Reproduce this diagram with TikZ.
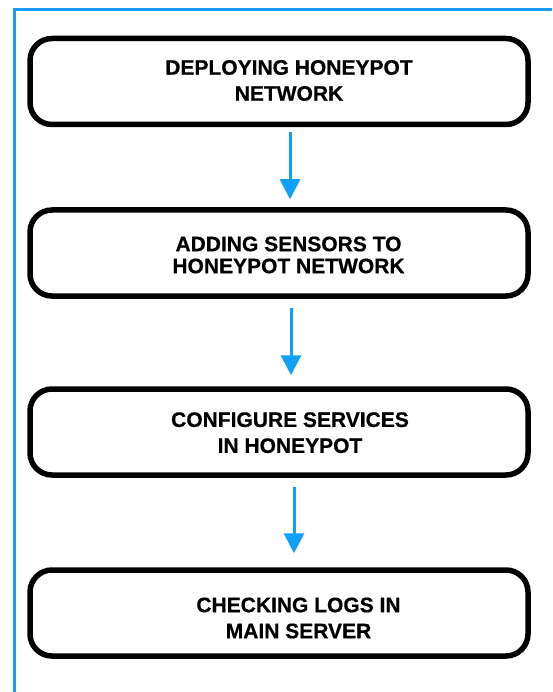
\documentclass[tikz,border=0pt]{standalone}
\usepackage{fontspec}
\setmainfont{Liberation Sans}[BoldFeatures={FakeBold=0.6}]
\usetikzlibrary{arrows.meta}
\definecolor{frameblue}{RGB}{25,155,250}
\definecolor{arrowblue}{RGB}{15,160,250}
\tikzset{
  stepbox/.style={draw=black, line width=5.5pt, rounded corners=22pt, fill=white,
    minimum width=498pt, minimum height=86pt, inner sep=0pt},
  steptext/.style={align=center, font=\fontsize{21}{26}\selectfont\bfseries, inner sep=0pt, text=black},
  flow/.style={draw=arrowblue, line width=3pt, -{Triangle[width=20pt,length=20pt]}},
  frameline/.style={draw=frameblue, line width=3pt}
}
\begin{document}
\begin{tikzpicture}[x=1pt,y=-1pt]
\useasboundingbox (0,0) rectangle (552,692);
% frame
\coordinate (fbl) at (14,692);
\coordinate (ftl) at (14,10);
\coordinate (ftr) at (552,10);
\draw[frameline] (fbl) -- (ftl) -- (ftr);
% boxes
\node[stepbox] (b1) at (279,81.5) {};
\node[stepbox] (b2) at (279,253) {};
\node[stepbox] (b3) at (279,432) {};
\node[stepbox] (b4) at (279,613) {};
% texts
\node[steptext] (t1) at (289,80.5) {DEPLOYING HONEYPOT\\NETWORK};
\node[steptext, font=\fontsize{21}{22}\selectfont\bfseries] (t2) at (288.5,255) {ADDING SENSORS TO\\HONEYPOT NETWORK};
\node[steptext] (t3) at (290,432.7) {CONFIGURE SERVICES\\IN HONEYPOT};
\node[steptext] (t4) at (298.5,618) {CHECKING LOGS IN\\MAIN SERVER};
% arrows
\draw[flow, shorten <=5pt, shorten >=8pt] ([xshift=11pt]b1.south) -- ([xshift=11pt]b2.north);
\draw[flow, shorten <=9pt, shorten >=11pt] ([xshift=12pt]b2.south) -- ([xshift=12pt]b3.north);
\draw[flow, shorten <=9pt, shorten >=14pt] ([xshift=15pt]b3.south) -- ([xshift=15pt]b4.north);
\end{tikzpicture}
\end{document}
